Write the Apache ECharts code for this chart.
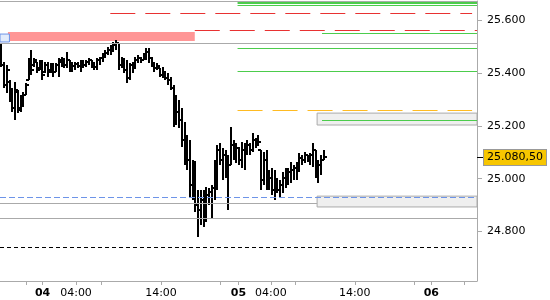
<!DOCTYPE html>
<html><head><meta charset="utf-8">
<script src="https://cdn.jsdelivr.net/npm/echarts@6/dist/echarts.min.js"></script>
<style>html,body{margin:0;padding:0;background:#fff}#c{width:550px;height:300px}</style>
</head><body><div id="c"></div>
<script>
// OHLC bars (one bar per slot, index = slot)
const opens = [25.487,25.430,25.354,25.365,25.305,25.267,25.328,25.267,25.297,25.316,25.373,25.441,25.430,25.441,25.418,25.437,25.403,25.430,25.411,25.422,25.403,25.430,25.441,25.437,25.430,25.449,25.418,25.426,25.434,25.426,25.441,25.430,25.441,25.449,25.430,25.422,25.449,25.456,25.468,25.475,25.487,25.494,25.505,25.513,25.430,25.449,25.411,25.381,25.430,25.418,25.449,25.456,25.449,25.468,25.479,25.456,25.437,25.418,25.418,25.392,25.403,25.381,25.373,25.343,25.260,25.252,25.222,25.146,25.108,25.071,24.976,24.938,24.900,24.881,24.919,24.862,24.938,24.949,24.965,25.052,25.108,25.071,25.089,25.006,25.052,25.127,25.108,25.116,25.071,25.108,25.116,25.127,25.108,25.146,25.127,25.108,24.995,25.071,24.976,25.002,24.957,24.976,24.957,24.976,25.002,25.014,25.025,25.033,25.040,25.052,25.078,25.071,25.089,25.078,25.089,25.108,25.033,25.052,25.071];
const highs = [25.513,25.441,25.430,25.373,25.343,25.365,25.335,25.316,25.328,25.362,25.456,25.487,25.456,25.441,25.449,25.449,25.441,25.441,25.437,25.437,25.437,25.456,25.460,25.456,25.479,25.449,25.441,25.441,25.441,25.449,25.449,25.449,25.456,25.449,25.441,25.456,25.460,25.475,25.487,25.498,25.505,25.517,25.524,25.513,25.460,25.456,25.449,25.437,25.441,25.460,25.468,25.460,25.475,25.494,25.494,25.460,25.441,25.437,25.418,25.422,25.403,25.400,25.384,25.354,25.316,25.297,25.267,25.214,25.165,25.146,25.071,25.067,24.957,24.957,24.957,24.968,24.965,24.976,25.071,25.127,25.135,25.116,25.108,25.089,25.195,25.146,25.135,25.120,25.139,25.135,25.146,25.135,25.173,25.154,25.165,25.108,25.101,25.108,25.033,25.040,25.033,25.002,24.995,25.025,25.040,25.040,25.063,25.052,25.063,25.097,25.089,25.101,25.089,25.097,25.135,25.108,25.071,25.089,25.108];
const lows = [25.422,25.343,25.324,25.290,25.252,25.222,25.248,25.252,25.271,25.316,25.373,25.392,25.422,25.400,25.411,25.373,25.400,25.384,25.400,25.384,25.403,25.384,25.422,25.418,25.418,25.403,25.403,25.411,25.418,25.403,25.418,25.422,25.430,25.418,25.411,25.411,25.430,25.441,25.456,25.468,25.468,25.479,25.487,25.411,25.418,25.400,25.362,25.373,25.400,25.418,25.437,25.437,25.449,25.449,25.437,25.422,25.403,25.411,25.384,25.381,25.373,25.354,25.335,25.195,25.203,25.192,25.120,25.052,25.033,24.931,24.919,24.874,24.779,24.825,24.817,24.836,24.900,24.851,24.919,24.957,25.052,24.995,25.002,24.881,25.052,25.071,25.059,25.052,25.040,25.033,25.089,25.089,25.101,25.116,25.127,24.957,24.976,24.957,24.957,24.938,24.919,24.946,24.927,24.946,24.965,24.976,24.983,24.995,24.995,25.025,25.052,25.059,25.063,25.052,25.044,25.002,24.983,25.014,25.071];
const closes = [25.430,25.354,25.411,25.297,25.267,25.335,25.260,25.305,25.316,25.354,25.441,25.411,25.449,25.411,25.437,25.392,25.430,25.403,25.422,25.403,25.430,25.449,25.437,25.430,25.449,25.418,25.426,25.434,25.426,25.441,25.430,25.441,25.449,25.430,25.422,25.449,25.456,25.468,25.475,25.487,25.494,25.505,25.513,25.430,25.449,25.411,25.381,25.430,25.418,25.449,25.456,25.449,25.468,25.479,25.456,25.437,25.418,25.426,25.392,25.403,25.381,25.373,25.343,25.260,25.252,25.222,25.146,25.108,25.071,24.976,24.938,24.900,24.881,24.919,24.862,24.938,24.949,24.965,25.052,25.108,25.071,25.089,25.006,25.052,25.127,25.108,25.116,25.071,25.108,25.116,25.127,25.108,25.146,25.127,25.139,24.995,25.071,24.976,25.002,24.957,24.976,24.957,24.976,25.002,25.014,25.025,25.033,25.040,25.052,25.078,25.071,25.089,25.078,25.089,25.108,25.033,25.052,25.071,25.0805];

// x-axis ticks / labels (slot units)
const xTickPos = [8.95,15.06,27.31,36.58,58.39,80.21,86.75,98.57,107.47,129.28,151.1,157.28,169.27];
const xLabelPos = [15.06,27.31,58.39,86.75,98.57,129.28,157.28];
const xLabelText = ['04','04:00','14:00','05','04:00','14:00','06'];
const xLabelIsDay = [true,false,false,true,false,false,true];
const yTicks = [24.8,25.0,25.2,25.4,25.6];
const lastPrice = 25.0805;
const lastPriceText = '25.080,50';

// horizontal levels
const hLevels = [25.667,25.656,25.626,25.560,25.551,25.513,25.494,25.407,25.260,25.222,24.931,24.908,24.851,24.741];
const hFrom   = [86.4,86.4,39.85,70.75,117.3,-0.5,86.4,86.4,86.4,117.3,-0.5,-0.5,-0.5,-0.5];
const hTo     = [174,174,172.2,174,174,174,174,174,172.2,174,174,115.5,174,172.2];
const hKind   = ['green2','green','red','red','green','grey','green','green','orange','green','blue','grey','grey','black'];

// zones
const zoneHigh = [25.555,25.547,25.248,24.934];
const zoneLow  = [25.521,25.517,25.203,24.893];
const zoneFrom = [2.41,-0.5,115.5,115.5];
const zoneTo   = [70.75,2.95,174,174];
const zoneKind = ['pink','blue','grey','grey'];

const X_MIN = -0.5, X_MAX = 174, Y_MIN = 24.613, Y_MAX = 25.672;

const lineStyles = {
  green2:{color:'#4ccc4c',width:2,type:'solid'},
  green:{color:'#4ccc4c',width:1,type:'solid'},
  red:{color:'#e83232',width:1,type:[25,10]},
  orange:{color:'#ffbb22',width:1,type:[25,10]},
  grey:{color:'#aaaaaa',width:1,type:'solid'},
  blue:{color:'#6d94e8',width:1,type:[6,3]},
  black:{color:'#000000',width:1,type:[4,3]}
};
const zoneStyles = {
  pink:{color:'#ff9696',borderWidth:0},
  blue:{color:'#e2ebfb',borderColor:'#6d94e8',borderWidth:1},
  grey:{color:'#efefef',borderColor:'#aaaaaa',borderWidth:1}
};

const ohlc = opens.map((o,i)=>[i,o,highs[i],lows[i],closes[i]]);

const chart = echarts.init(document.getElementById('c'), null, {renderer:'canvas'});
chart.setOption({
  animation:false,
  textStyle:{fontFamily:'DejaVu Sans'},
  grid:{left:0,right:70,top:1,bottom:19,containLabel:false},
  xAxis:[{
    type:'value', min:X_MIN, max:X_MAX, position:'bottom',
    axisLine:{show:true,onZero:false,lineStyle:{color:'#aaaaaa'}},
    splitLine:{show:false},
    axisTick:{show:true,customValues:xTickPos,length:4,lineStyle:{color:'#aaaaaa'}},
    axisLabel:{show:true,customValues:xLabelPos,margin:7,fontSize:11,color:'#000',
      formatter:function(v){
        let k=0,d=1e9; xLabelPos.forEach((p,i)=>{if(Math.abs(p-v)<d){d=Math.abs(p-v);k=i;}});
        return xLabelIsDay[k] ? '{b|'+xLabelText[k]+'}' : xLabelText[k];
      },
      rich:{b:{fontWeight:'bold',fontSize:11,color:'#000',fontFamily:'DejaVu Sans'}}
    }
  },{
    type:'value', min:X_MIN, max:X_MAX, position:'top',
    axisLine:{show:true,onZero:false,lineStyle:{color:'#aaaaaa'}},
    axisTick:{show:false},axisLabel:{show:false},splitLine:{show:false}
  }],
  yAxis:[{
    type:'value', min:Y_MIN, max:Y_MAX, position:'right',
    axisLine:{show:true,onZero:false,lineStyle:{color:'#aaaaaa'}},
    splitLine:{show:false},
    axisTick:{show:true,customValues:yTicks,length:5,lineStyle:{color:'#aaaaaa'}},
    axisLabel:{show:true,customValues:yTicks,margin:10,fontSize:11,color:'#000',
      formatter:v=>v.toFixed(3)}
  },{
    type:'value', min:Y_MIN, max:Y_MAX, position:'right',
    axisLine:{show:false,onZero:false},splitLine:{show:false},
    axisTick:{show:true,customValues:[lastPrice],length:6,lineStyle:{color:'#000'}},
    axisLabel:{show:true,customValues:[lastPrice],margin:7,fontSize:11,color:'#000',
      formatter:()=>lastPriceText,
      backgroundColor:'#f7c600',borderColor:'#999999',borderWidth:1,padding:[2,3,2,3]}
  }],
  series:[{
    type:'line', data:[], z:1, silent:true,
    markArea:{silent:true,
      data: zoneHigh.map((h,i)=>[{coord:[zoneFrom[i],h],itemStyle:zoneStyles[zoneKind[i]]},{coord:[zoneTo[i],zoneLow[i]]}])
    }
  },{
    type:'line', data:[], z:2, silent:true,
    markLine:{silent:true,symbol:['none','none'],label:{show:false},
      data: hLevels.map((v,i)=>[{coord:[hFrom[i],v],lineStyle:lineStyles[hKind[i]]},{coord:[hTo[i],v]}])
    }
  },{
    type:'custom', z:3, data:ohlc, encode:{x:0,y:[1,2,3,4]},
    renderItem:function(params,api){
      const x=api.value(0);
      const pH=api.coord([x,api.value(2)]), pL=api.coord([x,api.value(3)]);
      const pO=api.coord([x,api.value(1)]), pC=api.coord([x,api.value(4)]);
      const cx=Math.round(pH[0]);
      const yo=Math.round(pO[1]), yc=Math.round(pC[1]);
      const st={stroke:'#000',lineWidth:2};
      return {type:'group',children:[
        {type:'line',shape:{x1:cx,y1:Math.round(pH[1]),x2:cx,y2:Math.round(pL[1])},style:st},
        {type:'line',shape:{x1:cx-3,y1:yo,x2:cx,y2:yo},style:st},
        {type:'line',shape:{x1:cx,y1:yc,x2:cx+3,y2:yc},style:st}
      ]};
    }
  }]
});
</script></body></html>
